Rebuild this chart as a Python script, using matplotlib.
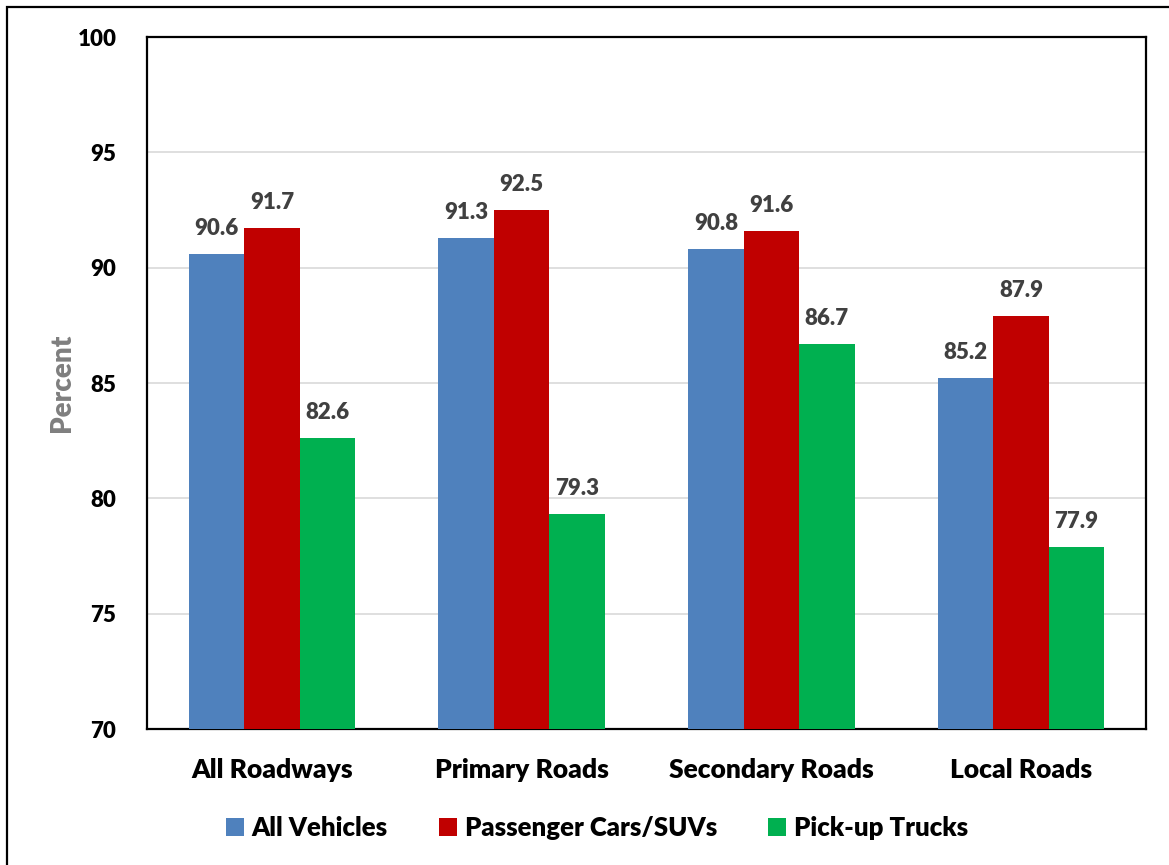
import matplotlib.pyplot as plt
import numpy as np
from matplotlib.patches import Rectangle

plt.rcParams['font.family'] = ['Lato', 'DejaVu Sans']

# data
categories = ['All Roadways', 'Primary Roads', 'Secondary Roads', 'Local Roads']
series_names = ['All Vehicles', 'Passenger Cars/SUVs', 'Pick-up Trucks']
all_vehicles = [90.6, 91.3, 90.8, 85.2]
passenger_cars = [91.7, 92.5, 91.6, 87.9]
pickup_trucks = [82.6, 79.3, 86.7, 77.9]
colors = ['#4F81BD', '#C00000', '#00B050']

W, H = 1169, 865
fig = plt.figure(figsize=(W / 100, H / 100), dpi=100)
ax = fig.add_axes([147 / W, 1 - 729 / H, (1146 - 147) / W, (729 - 37) / H])

# outer frame around the whole chart
fig.patches.append(Rectangle((7 / W, -0.1), 1.2, 1 - 7 / H + 0.1, transform=fig.transFigure,
                             fill=False, edgecolor='black', linewidth=1.6))

x = np.arange(len(categories))
bw = 0.222
for i, (vals, name) in enumerate(zip([all_vehicles, passenger_cars, pickup_trucks], series_names)):
    pos = x + (i - 1) * bw
    bars = ax.bar(pos, vals, width=bw, color=colors[i], label=name, zorder=3)
    for b, v in zip(bars, vals):
        ax.text(b.get_x() + b.get_width() / 2, v + 0.65, f'{v:.1f}', ha='center', va='bottom',
                fontsize=16, fontweight='heavy', color='#404040')

ax.set_ylim(70, 100)
ax.set_xlim(-0.5, 3.5)
ax.set_yticks(range(70, 101, 5))
ax.yaxis.grid(True, color='#d9d9d9', linewidth=1.2, zorder=0)
ax.set_xticks(x)
ax.set_xticklabels(categories)
ax.tick_params(axis='y', length=0, labelsize=16, pad=22)
ax.tick_params(axis='x', length=0, labelsize=19, pad=21)
for t in ax.get_yticklabels() + ax.get_xticklabels():
    t.set_fontweight('heavy')
for s in ax.spines.values():
    s.set_linewidth(1.6)
    s.set_color('black')
ax.set_ylabel('Percent', fontsize=20, fontweight='heavy', color='#7f7f7f', va='center')
ax.yaxis.set_label_coords(-0.085, 0.5)

fig.legend(loc='center', bbox_to_anchor=(597 / W, 1 - 828 / H), ncol=3, frameon=False,
           prop={'size': 18.5, 'weight': 'heavy'}, handlelength=0.7, handleheight=0.7,
           handletextpad=0.3, columnspacing=2.0)

fig.savefig('out.png', dpi=100)
